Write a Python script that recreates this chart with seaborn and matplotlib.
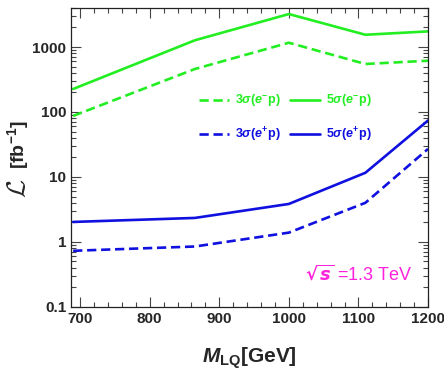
import numpy as np
import pandas as pd
import matplotlib
matplotlib.use("Agg")
import matplotlib.pyplot as plt
import seaborn as sns
from matplotlib.ticker import FixedLocator, MultipleLocator, LogLocator, NullFormatter

# data
mass = [690, 865, 1000, 1110, 1200]
lum_5s_em = [226, 1270, 3220, 1545, 1740]
lum_3s_em = [87, 459, 1165, 548, 616]
lum_5s_ep = [2.03, 2.34, 3.84, 11.6, 74]
lum_3s_ep = [0.73, 0.85, 1.39, 4.0, 27]

series_labels = [r"3$\sigma$($e^{-}$p)", r"5$\sigma$($e^{-}$p)",
                 r"3$\sigma$($e^{+}$p)", r"5$\sigma$($e^{+}$p)"]
y_ticks = [0.1, 1, 10, 100, 1000]
y_tick_labels = ["0.1", "1", "10", "100", "1000"]

sns.set_style("ticks")
FONT = ["Liberation Sans Narrow", "Liberation Sans", "DejaVu Sans"]
plt.rcParams["font.family"] = FONT
plt.rcParams["font.weight"] = "bold"
plt.rcParams["mathtext.fontset"] = "custom"
plt.rcParams["mathtext.rm"] = "Liberation Sans:bold"
plt.rcParams["mathtext.it"] = "Liberation Sans:italic:bold"
plt.rcParams["mathtext.bf"] = "Liberation Sans:bold"

GREEN = "#22ee22"
BLUE = "#1010e0"
DASH = (0, (3.5, 1.8))

fig = plt.figure(figsize=(4.44, 3.77), dpi=100)
ax = fig.add_axes([0.16, 0.186, 0.804, 0.793])

sns.lineplot(x=mass, y=lum_3s_em, ax=ax, color=GREEN, lw=1.9, linestyle=DASH, label=series_labels[0])
sns.lineplot(x=mass, y=lum_3s_ep, ax=ax, color=BLUE, lw=1.9, linestyle=DASH, label=series_labels[2])
sns.lineplot(x=mass, y=lum_5s_em, ax=ax, color=GREEN, lw=1.9, label=series_labels[1])
sns.lineplot(x=mass, y=lum_5s_ep, ax=ax, color=BLUE, lw=1.9, label=series_labels[3])

ax.set_yscale("log")
ax.set_xlim(687, 1200)
ax.set_ylim(0.1, 4000)

ax.xaxis.set_major_locator(MultipleLocator(100))
ax.xaxis.set_minor_locator(MultipleLocator(20))
ax.yaxis.set_major_locator(FixedLocator(y_ticks))
ax.set_yticklabels(y_tick_labels)
ax.yaxis.set_minor_locator(LogLocator(base=10, subs=np.arange(2, 10)))
ax.yaxis.set_minor_formatter(NullFormatter())

ax.tick_params(which="both", direction="in", top=True, right=True, width=0.8, color="#444444")
ax.tick_params(which="major", length=7, labelsize=11)
ax.tick_params(which="minor", length=3.5)
for lab in ax.get_xticklabels() + ax.get_yticklabels():
    lab.set_fontweight("bold")
for sp in ax.spines.values():
    sp.set_linewidth(0.9)
    sp.set_color("#222222")

ax.set_xlabel(r"$M_{\rm LQ}$[GeV]", fontsize=15, fontweight="bold", labelpad=14)

# y label: calligraphic L drawn with the cm math fonts, the unit in the sans font
fig.text(0.04, 0.50, r"$\mathcal{L}$", rotation=90, fontsize=19, ha="center", va="center",
         math_fontfamily="cm")
fig.text(0.04, 0.615, "[fb$^{-1}$]", rotation=90, fontsize=14, fontweight="bold",
         ha="center", va="center")

ax.text(1023, 0.26, r"$\sqrt{s}$ =1.3 TeV", color="#ff22dd", fontsize=13,
        fontweight="normal", va="baseline", math_fontfamily="dejavusans")

leg = ax.legend(ncol=2, loc="center", bbox_to_anchor=(0.6, 0.63), frameon=False,
                labelcolor="linecolor", fontsize=9, handlelength=2.4,
                columnspacing=0.7, labelspacing=1.3, handletextpad=0.5)

fig.savefig("out.png", dpi=100)
